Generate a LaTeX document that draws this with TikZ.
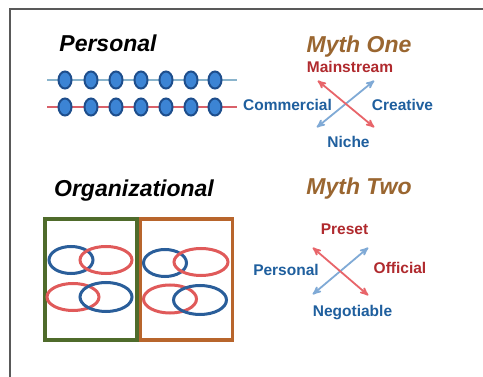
\documentclass[tikz,border=0pt]{standalone}
\usepackage{fontspec}
\setmainfont{Liberation Sans}
\usepackage{xcolor}
\usepackage{tikz}
\usetikzlibrary{arrows}
\usetikzlibrary{shapes.geometric}

\definecolor{mythbrown}{HTML}{9A6630}
\definecolor{labred}{HTML}{B02A2E}
\definecolor{labblue}{HTML}{1F5F9E}
\definecolor{arrred}{HTML}{E8656A}
\definecolor{arrblue}{HTML}{80AAD6}
\definecolor{boxgreen}{HTML}{4F6B2B}
\definecolor{boxorange}{HTML}{B8652C}
\definecolor{loopblue}{HTML}{2A5E9A}
\definecolor{loopred}{HTML}{E05A5A}
\definecolor{lineblue}{HTML}{8AB4CC}
\definecolor{linered}{HTML}{D9616A}
\definecolor{dotfill}{HTML}{3C84D4}
\definecolor{dotdraw}{HTML}{1E4E8C}

\begin{document}
\begin{tikzpicture}[x=1pt,y=-1pt,>=stealth',semithick]
						\tikzstyle{title}=[anchor=base, inner sep=0pt, font=\fontsize{23}{26}\selectfont\bfseries\itshape]
						\tikzstyle{lab}=[anchor=base, inner sep=0pt, font=\fontsize{15.5}{18}\selectfont\bfseries]
						\tikzstyle{dot}=[ellipse, draw=dotdraw, fill=dotfill, line width=2pt, minimum width=13pt, minimum height=17pt, inner sep=0pt]
						\tikzstyle{ring}=[ellipse, line width=3pt, inner sep=0pt]
						\tikzstyle{orgbox}=[draw, line width=3.2pt, minimum width=92pt, minimum height=121pt, inner sep=0pt]
						\tikzstyle{twoway}=[<->, line width=1.8pt, shorten >=1pt, shorten <=1pt]
						\useasboundingbox (0,0) rectangle (483,377);
						\fill[white] (0,0) rectangle (483,377);
						\draw[color=black!65, line width=1.5pt] (10,395) -- (10,9) -- (495,9);

						% personal
						\node[title] 			(pers) at (108,52)		{Personal};
						\coordinate (r1s) at (47,80);
						\coordinate (r1e) at (237,80);
						\coordinate (r2s) at (47,107);
						\coordinate (r2e) at (237,107);
						\draw[lineblue, line width=2pt] (r1s) -- (r1e);
						\draw[linered, line width=2.5pt] (r2s) -- (r2e);
						\node[dot] (a1) at (65,80) {};
						\node[dot] (a2) at (91,80) {};
						\node[dot] (a3) at (116,80) {};
						\node[dot] (a4) at (141,80) {};
						\node[dot] (a5) at (166,80) {};
						\node[dot] (a6) at (191,80) {};
						\node[dot] (a7) at (215,80) {};
						\node[dot] (b1) at (65,107) {};
						\node[dot] (b2) at (91,107) {};
						\node[dot] (b3) at (116,107) {};
						\node[dot] (b4) at (141,107) {};
						\node[dot] (b5) at (166,107) {};
						\node[dot] (b6) at (191,107) {};
						\node[dot] (b7) at (215,107) {};

						% myth one
						\node[title, mythbrown] 	(mone) at (359,53)		{Myth One};
						\node[lab, labred] 		(mainstr) at (350,73)	{Mainstream};
						\node[lab, labblue] 		(comm) at (287.5,111)	{Commercial};
						\node[lab, labblue] 		(creat) at (402.5,111)	{Creative};
						\node[lab, labblue] 		(niche) at (348.5,148)	{Niche};
						\coordinate (o1) at (317,80);
						\coordinate (o2) at (375,128);
						\coordinate (o3) at (316,128);
						\coordinate (o4) at (375,80);
						\path
							(o3) edge[twoway, arrblue] (o4)
							(o1) edge[twoway, arrred] (o2);

						% organizational
						\node[title] 			(org) at (134,197)		{Organizational};
						\node[orgbox, boxgreen] 	(G) at (91,279.5)		{};
						\node[orgbox, boxorange] 	(O) at (186.5,279.5)	{};
						\node[ring, draw=loopblue, minimum width=44pt, minimum height=27pt] (g1) at (71,260) {};
						\node[ring, draw=loopred, minimum width=52pt, minimum height=27pt] (g2) at (106,260) {};
						\node[ring, draw=loopred, minimum width=52pt, minimum height=27pt] (g3) at (73,297) {};
						\node[ring, draw=loopblue, minimum width=52pt, minimum height=29pt] (g4) at (106,297) {};
						\node[ring, draw=loopblue, minimum width=43pt, minimum height=27pt] (h1) at (165,263) {};
						\node[ring, draw=loopred, minimum width=54pt, minimum height=27pt] (h2) at (201,262) {};
						\node[ring, draw=loopred, minimum width=53pt, minimum height=28pt] (h3) at (170,299) {};
						\node[ring, draw=loopblue, minimum width=53pt, minimum height=29pt] (h4) at (200,300) {};

						% myth two
						\node[title, mythbrown] 	(mtwo) at (359,195)		{Myth Two};
						\node[lab, labred] 		(preset) at (344.5,235)	{Preset};
						\node[lab, labblue] 		(persb) at (286,276)	{Personal};
						\node[lab, labred] 		(offic) at (400,274)	{Official};
						\node[lab, labblue] 		(negot) at (352.5,317)	{Negotiable};
						\coordinate (t1) at (312,247);
						\coordinate (t2) at (369,296);
						\coordinate (t3) at (312,295);
						\coordinate (t4) at (369,247);
						\path
							(t3) edge[twoway, arrblue] (t4)
							(t1) edge[twoway, arrred] (t2);
\end{tikzpicture}
\end{document}
